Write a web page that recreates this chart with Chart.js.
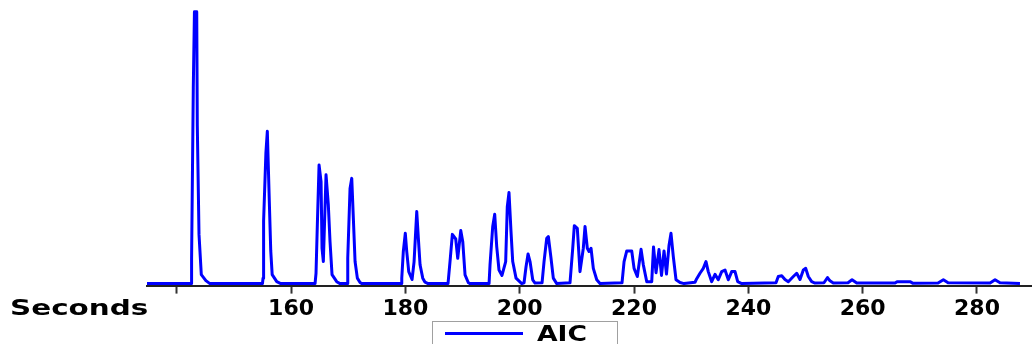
<!DOCTYPE html>
<html>
<head>
<meta charset="utf-8">
<script src="https://cdn.jsdelivr.net/npm/chart.js@4"></script>
<style>
  html, body { margin: 0; padding: 0; background: #fff; }
  #wrap { position: relative; width: 1032px; height: 344px; overflow: hidden; }
  #chart { position: absolute; left: 0; top: 0; }
  .lbl { position: absolute; font-family: 'DejaVu Sans', sans-serif; font-weight: bold; font-size: 22px; line-height: 22px; color: #000; white-space: nowrap; transform-origin: left top; }
  #axisTitle { left: 10px; top: 297px; transform: scaleX(1.337); }
  #legendBox { position: absolute; left: 432px; top: 321px; width: 184px; height: 40px; border: 1px solid #a0a0a0; }
  #legendLine { position: absolute; left: 445px; top: 332px; width: 78px; height: 3px; background: #0000ff; }
  #legendText { left: 537px; top: 323px; transform: scaleX(1.21); }
</style>
</head>
<body>
<div id="wrap">
  <canvas id="chart" width="1032" height="344"></canvas>
  <div class="lbl" id="axisTitle">Seconds</div>
  <div id="legendBox"></div>
  <div id="legendLine"></div>
  <div class="lbl" id="legendText">AIC</div>
</div>
<script>
(() => {
    'use strict';

    // retention time (s) and AIC signal
    const seriesName = 'AIC';
    const times = [
        134.8, 142.5, 142.6, 142.9, 143.1, 143.5, 143.6, 143.9, 144.3, 145.1, 145.8,
        155.0, 155.1, 155.2, 155.6, 155.85, 156.2, 156.45, 156.7, 157.5, 158.2,
        164.2, 164.37, 164.6, 164.9, 165.25, 165.42, 165.65, 166.12, 166.52, 166.82, 167.17, 167.99, 168.57,
        169.8, 169.92, 170.32, 170.62, 170.9, 171.2, 171.6, 172.07, 172.4,
        179.24, 179.37, 179.64, 179.99, 180.24, 180.59, 181.17, 181.52, 181.99, 182.27, 182.57, 183.04, 183.44, 183.97,
        187.46, 187.81, 188.22, 188.81, 189.16, 189.69, 190.04, 190.44, 191.02, 191.31,
        194.64, 194.81, 195.28, 195.63, 195.98, 196.38, 196.9, 197.55, 197.83, 198.13, 198.48, 198.78, 199.36, 200.36,
        200.76, 201.11, 201.46, 201.81, 202.28, 202.68,
        203.91, 204.26, 204.73, 205.01, 205.48, 205.88, 206.48,
        208.8, 209.28, 209.56, 210.08, 210.55, 211.13, 211.43, 211.83, 212.13, 212.48, 212.88, 213.48, 214.05,
        217.9, 218.26, 218.73, 219.6, 220.01, 220.58, 221.23, 221.63, 222.23, 223.1, 223.41, 223.85, 224.37,
        224.81, 225.25, 225.68, 226.12, 226.47, 226.87, 227.35, 228.05, 228.75,
        230.67, 230.97, 231.54, 232.12, 232.59, 232.99, 233.59, 234.17, 234.74, 235.34, 235.92, 236.5, 237.09,
        237.67, 238.14, 238.84,
        244.84, 245.24, 245.84, 246.41, 246.99, 247.87, 248.46, 249.04, 249.62, 250.04, 250.49, 251.08, 251.66,
        253.23, 253.85, 254.28, 254.86, 257.44, 258.14, 258.96, 265.67, 266.02, 268.29, 268.82,
        273.19, 274.12, 274.94, 282.29, 283.16, 284.03, 287.52
    ];
    const signal = [
        0, 0, 9, 72, 100, 100, 58, 18, 3.3, 1.1, 0,
        0, 2, 23, 48, 56, 30, 12, 3.3, 0.7, 0,
        0, 3.8, 21.7, 43.6, 37.5, 13, 8.1, 40, 29, 15.4, 3.3, 0.7, 0,
        0, 9.3, 35, 38.7, 24, 8.1, 2, 0.4, 0,
        0, 2, 11.8, 18.5, 11.8, 4.4, 1.5, 8, 26.5, 16.7, 6.9, 2, 0.5, 0,
        0, 8.1, 18.1, 16.4, 9.3, 19.5, 15.4, 3.2, 0.3, 0,
        0, 6.9, 21, 25.5, 13.6, 5, 3, 8.1, 28.3, 33.5, 19.1, 8.1, 2, 0,
        0.3, 6.2, 10.9, 8.1, 1.4, 0.2,
        0.3, 8.1, 16.7, 17.3, 9.3, 2, 0,
        0.3, 13, 21.3, 20.3, 4.4, 13, 21, 13, 11.8, 13, 5.6, 1.4, 0,
        0.3, 8.1, 12, 12, 5.6, 2.6, 12.6, 6.9, 0.7, 0.7, 13.5, 4, 12.5,
        3, 12, 3.5, 14, 18.5, 10, 1.4, 0.4, 0,
        0.5, 1.8, 3.8, 5.6, 8.1, 4.4, 0.7, 3.4, 1.4, 4.4, 5, 1.4, 4.4,
        4.4, 0.7, 0,
        0.3, 2.6, 2.9, 1.5, 0.7, 2.6, 3.8, 1.5, 5, 5.6, 2.6, 0.7, 0.2,
        0.3, 2.2, 1, 0.2, 0.3, 1.4, 0.2, 0.2, 0.7, 0.7, 0.1,
        0.2, 1.4, 0.3, 0.2, 1.4, 0.3, 0
    ];
    const tickValues = [140, 160, 180, 200, 220, 240, 260, 280];

    const points = times.map((t, i) => ({ x: t, y: signal[i] }));

    new Chart(document.getElementById('chart'), {
        type: 'line',
        data: {
            datasets: [{
                label: seriesName,
                data: points,
                borderColor: '#0000ff',
                borderWidth: 3,
                borderJoinStyle: 'round',
                pointRadius: 0,
                tension: 0,
                fill: false
            }]
        },
        options: {
            responsive: false,
            animation: false,
            devicePixelRatio: 1,
            layout: {
                padding: { left: 147, right: 1, top: 0, bottom: 19 }
            },
            scales: {
                x: {
                    type: 'linear',
                    min: 134.8,
                    max: 289.45,
                    afterBuildTicks: axis => {
                        axis.ticks = tickValues.map(v => ({ value: v }));
                    },
                    ticks: {
                        autoSkip: false,
                        maxRotation: 0,
                        padding: 2.5,
                        color: '#000',
                        font: { family: 'DejaVu Sans', size: 22, weight: 'bold' },
                        callback: v => (v === 140 ? '' : v)
                    },
                    grid: {
                        drawOnChartArea: false,
                        drawTicks: true,
                        tickLength: 8,
                        tickWidth: 2,
                        tickColor: '#333'
                    },
                    border: { display: true, color: '#222', width: 2 }
                },
                y: {
                    display: false,
                    min: -0.74,
                    max: 104.3
                }
            },
            plugins: {
                legend: { display: false },
                tooltip: { enabled: false }
            }
        }
    });
})();
</script>
</body>
</html>
